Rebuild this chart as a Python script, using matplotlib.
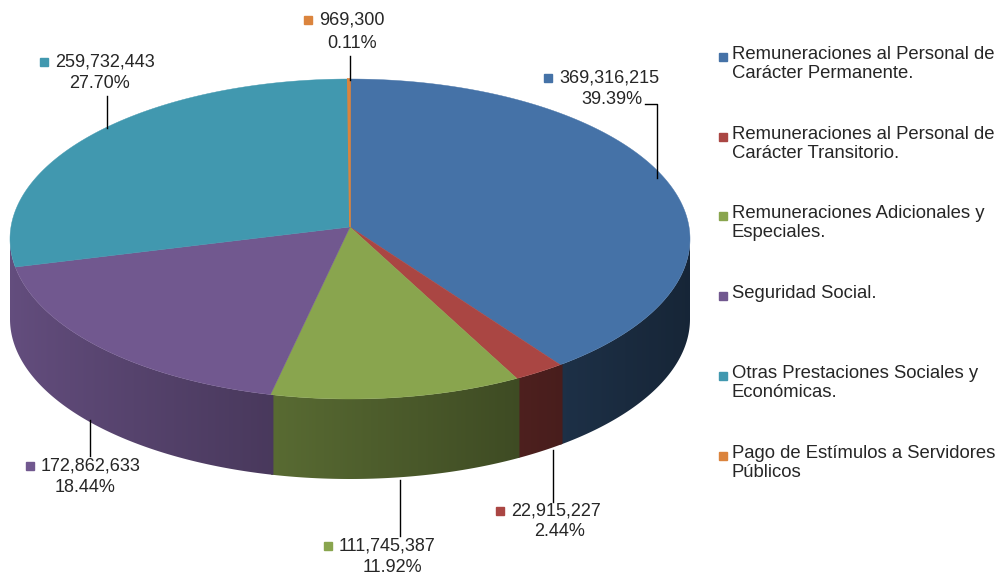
import numpy as np
import matplotlib.pyplot as plt
from matplotlib.colors import to_rgb
from matplotlib.patches import Polygon

# data
labels = ['Remuneraciones al Personal de\nCarácter Permanente.',
          'Remuneraciones al Personal de\nCarácter Transitorio.',
          'Remuneraciones Adicionales y\nEspeciales.',
          'Seguridad Social.',
          'Otras Prestaciones Sociales y\nEconómicas.',
          'Pago de Estímulos a Servidores\nPúblicos']
values = [369316215, 22915227, 111745387, 172862633, 259732443, 969300]
pct_labels = ['39.39%', '2.44%', '11.92%', '18.44%', '27.70%', '0.11%']
colors = ['#4572A7', '#AA4643', '#89A54E', '#71588F', '#4198AF', '#DB843D']

plt.rcParams['font.family'] = ['Liberation Sans', 'DejaVu Sans']
txt_color = '#262626'

fig = plt.figure(figsize=(9.98, 5.77), dpi=100)
ax = fig.add_axes([0, 0, 1, 1])

# pie geometry (pixel coords)
cx, cy, a, b, depth = 350, 239, 340, 160, 80
apex = (350, 227)

frac = np.array(values) / sum(values)
bounds = 90 - 360 * np.concatenate([[0], np.cumsum(frac)])


def pt(t, dy=0):
    r = np.radians(t)
    return cx + a * np.cos(r), cy - b * np.sin(r) + dy


def shade(c, x):
    f = 0.88 - 0.55 * np.clip((x - 10) / 680, 0, 1) ** 0.9
    return np.array(to_rgb(c))[None, :] * f[:, None]


# visible parts of the side wall (front half of the ellipse)
vis = []
for i in range(len(values)):
    lo, hi = max(bounds[i + 1], -180), min(bounds[i], 0)
    if hi - lo > 0.5:
        vis.append([i, lo, hi])
# a tiny sliver at the far left is hidden by the neighbour
if vis[-1][2] - vis[-1][1] < 12:
    vis.pop()
    vis[-1][1] = -180

for i, lo, hi in vis:
    ts = np.linspace(min(hi + 0.5, 0), lo, 200)
    xs, ys = pt(ts)
    px = np.concatenate([xs, xs[::-1]])
    py = np.concatenate([ys, ys[::-1] + depth])
    poly = Polygon(np.column_stack([px, py]), closed=True, fc='none', ec='none')
    ax.add_patch(poly)
    x0, x1 = px.min(), px.max()
    img = shade(colors[i], np.linspace(x0, x1, 300))[None, :, :]
    im = ax.imshow(img, extent=(x0, x1, py.max(), py.min()), aspect='auto',
                   interpolation='bilinear', zorder=1)
    im.set_clip_path(poly)

# top face
for i in range(len(values)):
    t0, t1 = bounds[i], bounds[i + 1]
    ts = np.linspace(t0, t1, max(3, int((t0 - t1) * 2)))
    xs, ys = pt(ts)
    px = np.concatenate([[apex[0]], xs])
    py = np.concatenate([[apex[1]], ys])
    ax.fill(px, py, color=colors[i], ec=colors[i], lw=1.2 if frac[i] < 0.01 else 0.3,
            zorder=2)

# data labels: (square x, value y, pct center x, pct y)
lab_pos = [(548, 78, 612, 100), (500, 511, 560, 532), (328, 546, 392, 567),
           (30, 466, 85, 488), (44, 62, 100, 84), (308, 20, 352, 44)]
leaders = [[(645, 104), (657, 104), (657, 178)],
           [(553, 450), (553, 502)],
           [(400, 480), (400, 536)],
           [(90, 420), (90, 456)],
           [(107, 96), (107, 128)],
           [(350, 56), (350, 80)]]

for i, v in enumerate(values):
    sx, sy, pcx, pcy = lab_pos[i]
    ax.plot(sx, sy, 's', color=colors[i], ms=6, zorder=3)
    ax.text(sx + 11, sy, f'{v:,}', fontsize=13, color=txt_color, va='center', ha='left')
    ax.text(pcx, pcy, pct_labels[i], fontsize=13, color=txt_color, va='center', ha='center')
    lx, ly = zip(*leaders[i])
    ax.plot(lx, ly, color='black', lw=1, zorder=3)

# legend
leg_y = [57, 137, 216, 296, 376, 456]
for i, lab in enumerate(labels):
    ax.plot(723, leg_y[i], 's', color=colors[i], ms=6)
    ax.text(732, leg_y[i] - 11, lab, fontsize=13.3, color=txt_color, va='top', ha='left',
            linespacing=1.12)

ax.set_xlim(0, 998)
ax.set_ylim(577, 0)
ax.axis('off')

fig.savefig('out.png', dpi=100)
